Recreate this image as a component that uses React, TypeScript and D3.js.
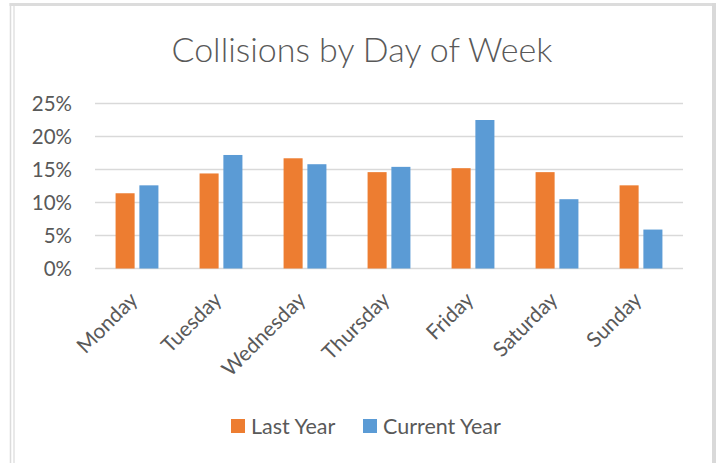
import React from "react";
import * as d3 from "d3";

const days = ["Monday", "Tuesday", "Wednesday", "Thursday", "Friday", "Saturday", "Sunday"];
const lastYear = [11.4, 14.4, 16.7, 14.6, 15.2, 14.6, 12.6];
const currentYear = [12.6, 17.2, 15.8, 15.4, 22.5, 10.5, 5.9];
const seriesNames = ["Last Year", "Current Year"];
const seriesColors = ["#ED7D31", "#5B9BD5"];
const yTicks = [0, 5, 10, 15, 20, 25];
const title = "Collisions by Day of Week";

const W = 720;
const H = 463;
const FONT = "Lato, 'Open Sans', sans-serif";
const TXT = "#595959";

export default function App() {
  const x = d3.scaleBand<string>().domain(days).range([95, 683]).paddingInner(0.49).paddingOuter(0.245);
  const x1 = d3.scaleBand<string>().domain(seriesNames).range([0, x.bandwidth()]).paddingInner(0.2);
  const y = d3.scaleLinear().domain([0, 25]).range([268.5, 103.5]);
  const seriesVals = [lastYear, currentYear];

  return (
    <svg width={W} height={H} style={{ position: "absolute", left: 0, top: 0, display: "block", background: "#fff" }}>
      <rect x={0} y={0} width={W} height={H} fill="#fff" />
      {/* frame */}
      <line x1={9.5} y1={4.5} x2={716} y2={4.5} stroke="#dcdcdc" strokeWidth={3} />
      <line x1={10.5} y1={3} x2={10.5} y2={H} stroke="#dcdcdc" strokeWidth={1.5} />
      <line x1={14} y1={6} x2={14} y2={H} stroke="#e2e2e2" strokeWidth={1.5} />
      <line x1={714} y1={3} x2={714} y2={H} stroke="#d9d9d9" strokeWidth={4} />

      <text x={362} y={62} textAnchor="middle" fontFamily={FONT} fontWeight={300} fontSize={34} fill={TXT}>
        {title}
      </text>

      {yTicks.map((t) => (
        <g key={t}>
          <line x1={95} x2={683} y1={y(t)} y2={y(t)} stroke="#d9d9d9" strokeWidth={1.5} />
          <text x={72} y={y(t)} dy="0.36em" textAnchor="end" fontFamily={FONT} fontSize={20.5} fill={TXT}>
            {t}%
          </text>
        </g>
      ))}

      {days.map((d, i) => (
        <g key={d} transform={`translate(${x(d)},0)`}>
          {seriesNames.map((s, j) => (
            <rect
              key={s}
              x={x1(s)}
              y={y(seriesVals[j][i])}
              width={x1.bandwidth()}
              height={y(0) - y(seriesVals[j][i])}
              fill={seriesColors[j]}
            />
          ))}
        </g>
      ))}

      {days.map((d) => {
        const cx = (x(d) as number) + x.bandwidth() / 2;
        return (
          <text
            key={d}
            transform={`translate(${cx + 2},${301}) rotate(-45)`}
            textAnchor="end"
            fontFamily={FONT}
            fontSize={21}
            fill={TXT}
          >
            {d}
          </text>
        );
      })}

      {seriesNames.map((s, j) => {
        const lx = [231, 363][j];
        return (
          <g key={s}>
            <rect x={lx} y={419} width={14} height={14} fill={seriesColors[j]} />
            <text x={lx + 20} y={426} dy="0.36em" fontFamily={FONT} fontSize={21.5} fill={TXT}>
              {s}
            </text>
          </g>
        );
      })}
    </svg>
  );
}
